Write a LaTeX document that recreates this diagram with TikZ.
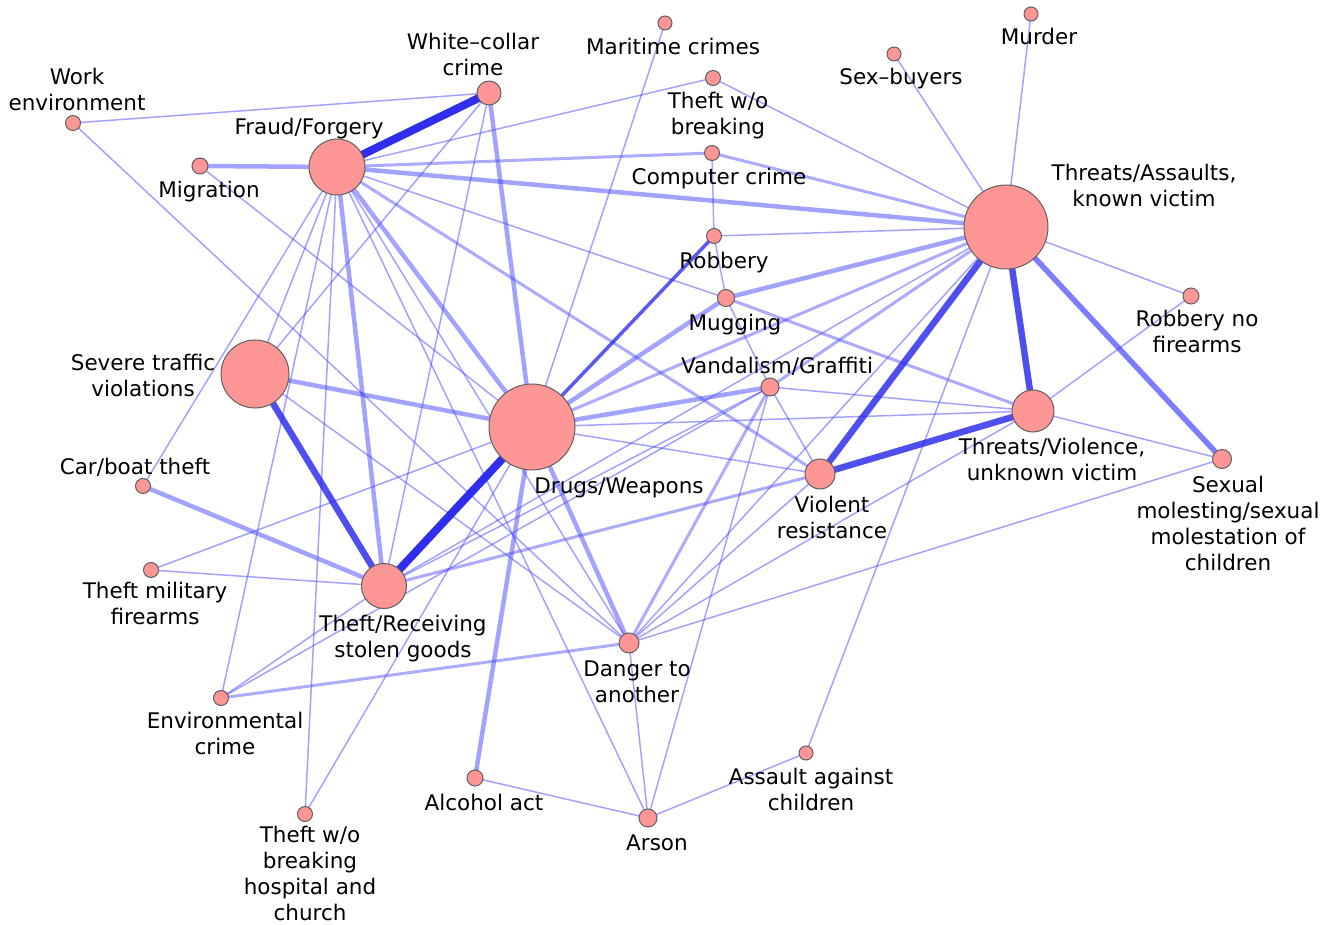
\documentclass[tikz,border=0pt]{standalone}
\usepackage{fontspec}
\setmainfont{DejaVu Sans}
\usetikzlibrary{backgrounds}
\definecolor{edgeblue}{RGB}{70,70,255}
\definecolor{darkblue}{RGB}{35,35,235}
\definecolor{nodefill}{RGB}{255,150,150}
\definecolor{nodeline}{RGB}{95,95,95}
\tikzset{
  vtx/.style={circle, fill=nodefill, draw=nodeline, line width=1pt, inner sep=0pt, minimum size=#1},
  lblbase/.style={align=center, font=\fontsize{21.5}{26}\selectfont, inner sep=0pt,
    execute at begin node=\strut},
  lbl/.style={lblbase, execute at end node=\strut},
  ethin/.style={draw=edgeblue, draw opacity=0.5, line width=1.5pt},
  emed/.style={draw=edgeblue, draw opacity=0.45, line width=3pt},
  ewide/.style={draw=edgeblue, draw opacity=0.5, line width=4.5pt},
  eheavy/.style={draw=edgeblue, draw opacity=0.7, line width=5.5pt},
  edark/.style={draw=darkblue, draw opacity=0.75, line width=3.5pt},
  estrong/.style={draw=darkblue, draw opacity=0.8, line width=6.5pt},
  emax/.style={draw=darkblue, draw opacity=0.95, line width=8pt},
}
\begin{document}
\begin{tikzpicture}[x=1pt,y=-1pt]
\useasboundingbox (0,0) rectangle (1336,925);
% vertices
\node[vtx=15] (we) at (73,123) {};
\node[vtx=24] (wc) at (489,93) {};
\node[vtx=56] (fraud) at (337,167) {};
\node[vtx=16] (mig) at (200,166) {};
\node[vtx=14] (mar) at (665,23) {};
\node[vtx=15] (twob) at (713,78) {};
\node[vtx=15] (comp) at (712,153) {};
\node[vtx=15] (rob) at (714,236) {};
\node[vtx=17] (mug) at (726,298) {};
\node[vtx=14] (sexb) at (894,54) {};
\node[vtx=14] (murder) at (1031,14) {};
\node[vtx=84] (tak) at (1006,227) {};
\node[vtx=16] (rnf) at (1191,296) {};
\node[vtx=68] (sev) at (255,374) {};
\node[vtx=18] (vand) at (770,387) {};
\node[vtx=86] (drugs) at (532,427) {};
\node[vtx=42] (tuv) at (1033,411) {};
\node[vtx=30] (vr) at (820,474) {};
\node[vtx=19] (sexm) at (1222,459) {};
\node[vtx=15] (car) at (143,486) {};
\node[vtx=15] (tmil) at (151,570) {};
\node[vtx=45] (tr) at (384,586) {};
\node[vtx=20] (danger) at (629,643) {};
\node[vtx=15] (env) at (221,698) {};
\node[vtx=16] (alc) at (475,778) {};
\node[vtx=18] (arson) at (648,818) {};
\node[vtx=14] (assault) at (806,753) {};
\node[vtx=15] (thosp) at (305,814) {};
% labels
\node[lbl] (l-we) at (77,93.5) {Work\\environment};
\node[lbl] (l-wc) at (473,58.5) {White–collar\\crime};
\node[lbl] (l-fraud) at (309,129.5) {Fraud/Forgery};
\node[lbl] (l-mig) at (209,192.5) {Migration};
\node[lbl] (l-mar) at (673,49.5) {Maritime crimes};
\node[lbl] (l-twob) at (718,117.5) {Theft w/o\\breaking};
\node[lbl] (l-comp) at (719,179.5) {Computer crime};
\node[lbl] (l-rob) at (724,263.5) {Robbery};
\node[lbl] (l-mug) at (735,325.5) {Mugging};
\node[lbl] (l-sexb) at (901,79.5) {Sex–buyers};
\node[lbl] (l-murder) at (1039,39.5) {Murder};
\node[lbl] (l-tak) at (1144,189) {Threats/Assaults,\\known victim};
\node[lbl] (l-rnf) at (1197,335.5) {Robbery no\\firearms};
\node[lbl] (l-sev) at (143,379) {Severe traffic\\violations};
\node[lbl] (l-vand) at (777,368.5) {Vandalism/Graffiti};
\node[lbl] (l-drugs) at (619,488.5) {Drugs/Weapons};
\node[lbl] (l-tuv) at (1052,463.5) {Threats/Violence,\\unknown victim};
\node[lbl] (l-vr) at (832,521.5) {Violent\\resistance};
\node[lbl] (l-sexm) at (1228,527) {Sexual\\molesting/sexual\\molestation of\\children};
\node[lbl] (l-car) at (135,469.5) {Car/boat theft};
\node[lbl] (l-tmil) at (155,607.5) {Theft military\\firearms};
\node[lbl] (l-tr) at (403,640.5) {Theft/Receiving\\stolen goods};
\node[lbl] (l-danger) at (637,685.5) {Danger to\\another};
\node[lbl] (l-env) at (225,737.5) {Environmental\\crime};
\node[lbl] (l-alc) at (484,805.5) {Alcohol act};
\node[lbl] (l-arson) at (657,845.5) {Arson};
\node[lbl] (l-assault) at (811,793) {Assault against\\children};
\node[lblbase] (l-thosp) at (310,877.6) {Theft w/o\\breaking\\hospital and\\church};
% edges
\begin{scope}[on background layer]
% thin edges
\foreach \a/\b in {fraud/twob, fraud/mug, fraud/car, fraud/sev, fraud/env, fraud/thosp, fraud/arson, fraud/danger,
  wc/we, wc/sev, wc/tr, we/danger, mig/drugs, mar/drugs, twob/tak, comp/rob, rob/mug, rob/tak,
  sexb/tak, murder/tak, rnf/tak, rnf/tuv, tak/assault, tak/danger, tak/tr, tuv/vand, tuv/drugs,
  tuv/danger, tuv/sexm, sexm/danger, vr/vand, vr/drugs, vr/danger, vand/mug, vand/tr, vand/arson,
  vand/env, arson/alc, arson/assault, arson/danger, tmil/tr, tmil/drugs, thosp/drugs, env/tr, sev/danger}
  \draw[ethin] (\a.center) -- (\b.center);
% medium edges
\foreach \a/\b in {fraud/comp, comp/tak, fraud/vr, tr/vr, drugs/tak, env/danger, vand/danger, vand/tak, mug/tuv}
  \draw[emed] (\a.center) -- (\b.center);
% wide edges
\foreach \a/\b in {fraud/mig, fraud/tak, fraud/drugs, fraud/tr, wc/drugs, sev/drugs, car/tr,
  drugs/vand, drugs/mug, mug/tak, drugs/alc, drugs/danger}
  \draw[ewide] (\a.center) -- (\b.center);
\draw[eheavy] (tak.center) -- (sexm.center);
\draw[edark] (rob.center) -- (drugs.center);
\foreach \a/\b in {sev/tr, tak/vr, tak/tuv, vr/tuv}
  \draw[estrong] (\a.center) -- (\b.center);
\draw[emax] (fraud.center) -- (wc.center);
\draw[emax] (drugs.center) -- (tr.center);
\end{scope}
\end{tikzpicture}
\end{document}
